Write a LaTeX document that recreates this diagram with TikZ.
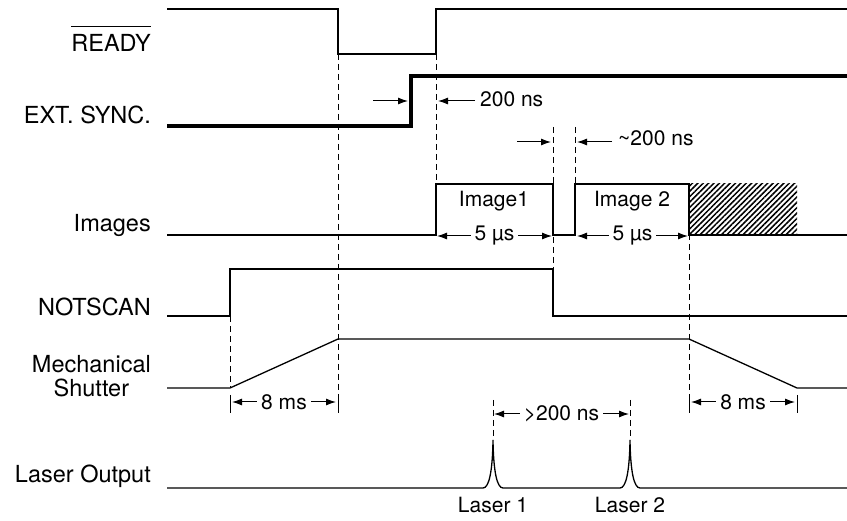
\documentclass[tikz,border=0pt]{standalone}
\usepackage{fontspec}
\setmainfont{TeX Gyre Heros}
\usetikzlibrary{arrows.meta}
\usetikzlibrary{patterns.meta}

\tikzset{
  sig/.style={line width=1.3pt},
  syncline/.style={line width=3.4pt},
  guide/.style={line width=1pt, dash pattern=on 6pt off 4pt},
  tickbar/.style={line width=1pt},
  dim/.style={line width=1pt, {Latex[length=10pt,width=7pt]}-{Latex[length=10pt,width=7pt]}},
  ptr/.style={line width=1pt, -{Latex[length=10pt,width=7pt]}},
  lbl/.style={anchor=base east, inner sep=0pt, font=\fontsize{23.5}{24.5}\selectfont},
  note/.style={inner sep=0pt, font=\fontsize{21}{25}\selectfont},
  gap/.style={note, fill=white, inner xsep=4pt}
}

\begin{document}
\begin{tikzpicture}[x=1pt, y=-1pt]
\def\xs{167}
\def\xe{847}
\def\tA{230}
\def\tB{338}
\def\tC{411}
\def\tD{436}
\def\tE{553}
\def\tF{575}
\def\tG{689}
\def\tH{797}
\def\tL{493}
\def\tM{630}

\useasboundingbox (0,0) rectangle (847,521);

\node[lbl] (ready) at (151,52) {READY};
\draw[line width=1pt] ([yshift=8pt]ready.north west) -- ([yshift=8pt]ready.north east);
\node[lbl] (sync) at (151,124) {EXT. SYNC.};
\node[lbl] (images) at (151,232) {Images};
\node[lbl] (notscan) at (151,316) {NOTSCAN};
\node[lbl, anchor=east, align=center] (shutter) at (151,376) {Mechanical\\Shutter};
\node[lbl] (laser) at (151,483) {Laser Output};

\fill[pattern={Lines[angle=45, distance=3.8pt, line width=1.5pt]}] (\tG,184) rectangle (\tH,235);

\draw[guide] (\tB,54) -- (\tB,395);
\draw[guide] (\tD,54) -- (\tD,184);
\draw[guide] (\tE,127) -- (\tE,269);
\draw[guide] (\tF,127) -- (\tF,184);
\draw[guide] (\tG,184) -- (\tG,395);
\draw[guide] (\tA,316) -- (\tA,388);
\draw[guide] (\tL,400) -- (\tL,440);
\draw[guide] (\tM,400) -- (\tM,440);
\foreach \x in {\tA,\tB,\tG,\tH} {
  \draw[tickbar] (\x,395) -- (\x,413);
}

\draw[sig] (\xs,9) -| (\tB,54) -| (\tD,9) -- (\xe,9);
\draw[syncline] (\xs,126) -| (\tC,76) -- (\xe,76);
\draw[sig] (\xs,235) -| (\tD,184) -| (\tE,235) -| (\tF,184) -| (\tG,235) -- (\xe,235);
\draw[sig] (\xs,316) -| (\tA,269) -| (\tE,316) -- (\xe,316);
\draw[sig] (\xs,388) -- (\tA,388) -- (\tB,339) -- (\tG,339) -- (\tH,388) -- (\xe,388);
\draw[sig] (\xs,488) -- (483,488)
  .. controls (489,488) and (492.5,472) .. (\tL,440)
  .. controls (493.5,472) and (497,488) .. (503,488) -- (620,488)
  .. controls (626,488) and (629.5,472) .. (\tM,440)
  .. controls (630.5,472) and (634,488) .. (640,488) -- (\xe,488);

\node[note, anchor=base west] (ns1) at (480,107) {200 ns};
\draw[ptr] (373,101) -- (408,101);
\draw[ptr] (475,101) -- (438,101);
\node[note, anchor=base west] (ns2) at (618,146) {\textasciitilde200 ns};
\draw[ptr] (517,142) -- (551,142);
\draw[ptr] (612,142) -- (577,142);

\node[note, anchor=base] (img1) at (494,207) {Image1};
\node[note, anchor=base] (img2) at (632,207) {Image 2};

\draw[dim] (\tD+1,236) -- node[gap] (w1) {5 µs} (\tE-1,236);
\draw[dim] (\tF+2,236) -- node[gap] (w2) {5 µs} (\tG-1,236);
\draw[dim] (\tA+2,402) -- node[gap] (m1) {8 ms} (\tB-2,402);
\draw[dim] (\tG+2,402) -- node[gap] (m2) {8 ms} (\tH-2,402);
\draw[dim] (\tL+1,414) -- node[gap] (d12) {>200 ns} (\tM-1,414);

\node[note, anchor=base] (las1) at (\tL,513) {Laser 1};
\node[note, anchor=base] (las2) at (\tM,513) {Laser 2};
\end{tikzpicture}
\end{document}
